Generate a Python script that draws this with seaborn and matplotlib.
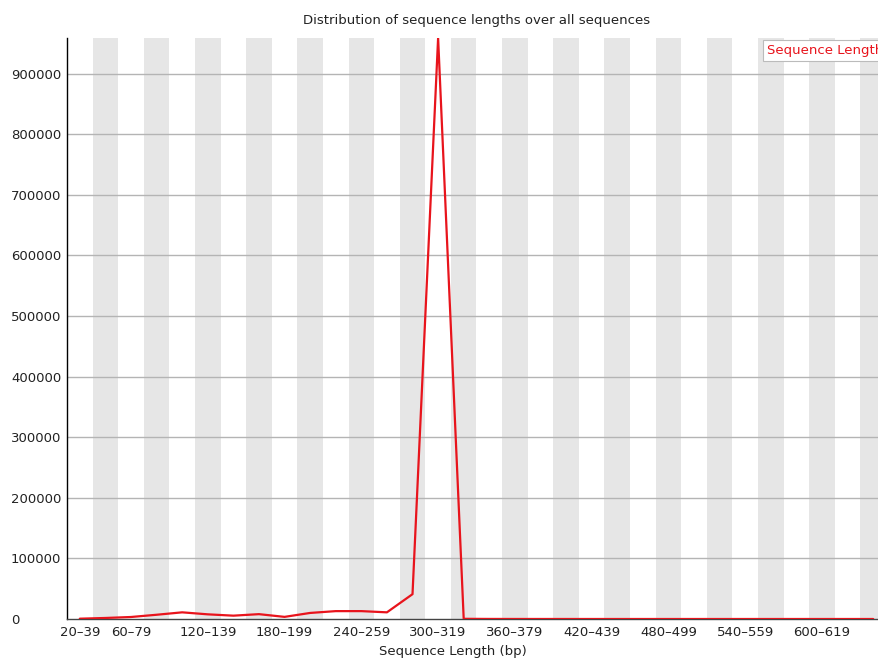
import matplotlib
matplotlib.use("Agg")
import matplotlib.pyplot as plt
import seaborn as sns
import pandas as pd

# Length bins (bp) and read counts per bin
length_bins = [
    "20-39", "40-59", "60-79", "80-99", "100-119", "120-139", "140-159", "160-179",
    "180-199", "200-219", "220-239", "240-259", "260-279", "280-299", "300-319", "320-339",
    "340-359", "360-379", "380-399", "400-419", "420-439", "440-459", "460-479", "480-499",
    "500-519", "520-539", "540-559", "560-579", "580-599", "600-619", "620-639", "640-659",
]
read_counts = [
    500, 1700, 3300, 7000, 11000, 7700, 5500, 8000,
    3500, 10000, 13000, 13000, 11000, 41000, 959000, 300,
    100, 50, 30, 20, 10, 10, 5, 5,
    5, 3, 2, 2, 1, 1, 1, 1,
]
labelled_bins = ["20-39", "60-79", "120-139", "180-199", "240-259", "300-319",
                 "360-379", "420-439", "480-499", "540-559", "600-619"]
y_ticks = [0, 100000, 200000, 300000, 400000, 500000, 600000, 700000, 800000, 900000]

df = pd.DataFrame({"pos": range(len(length_bins)), "bin": length_bins, "count": read_counts})

sns.set_theme(style="white")
plt.rcParams["font.family"] = ["DejaVu Sans"]

W, H = 879, 661
fig = plt.figure(figsize=(W / 100, H / 100), dpi=100)
left, right, top, bottom = 67, 886, 38, 619
ax = fig.add_axes([left / W, (H - bottom) / H, (right - left) / W, (bottom - top) / H])

# Alternating shaded bands behind every second bin
for i in range(len(length_bins)):
    if i % 2 == 1:
        ax.axvspan(i - 0.5, i + 0.5, color="#e6e6e6", lw=0, zorder=0)

for t in y_ticks[1:]:
    ax.axhline(t, color="#b4b4b4", lw=1.0, zorder=1)

sns.lineplot(data=df, x="pos", y="count", color="#e8141c", lw=1.6, ax=ax,
             zorder=3, label="Sequence Length (bp)")

ax.set_xlim(-0.5, len(length_bins) - 0.5)
ax.set_ylim(0, max(read_counts))
ax.set_yticks(y_ticks)
ax.set_yticklabels([str(t) for t in y_ticks], fontsize=9.5, color="#222222", ha="left")
tick_pos = [length_bins.index(b) for b in labelled_bins]
ax.set_xticks(tick_pos)
ax.set_xticklabels([b.replace("-", "\u2013") for b in labelled_bins], fontsize=9.5, color="#222222")
ax.tick_params(length=0)
ax.tick_params(axis="x", pad=5)
# left-aligned y labels starting near the figure's left edge
ax.tick_params(axis="y", pad=(left - 11) * 72 / 100)

ax.set_xlabel("Sequence Length (bp)", fontsize=9.5, color="#222222")
ax.xaxis.set_label_coords((453 - left) / (right - left), -(651 - bottom) / (bottom - top),
                          transform=ax.transAxes)
ax.xaxis.label.set_va("center")
ax.set_ylabel("")
ax.set_title("Distribution of sequence lengths over all sequences", fontsize=9.5,
             color="#222222", pad=10)

for s in ["top", "right"]:
    ax.spines[s].set_visible(False)
ax.spines["left"].set_color("black")
ax.spines["left"].set_linewidth(1.0)
ax.spines["bottom"].set_color("#444444")
ax.spines["bottom"].set_linewidth(1.0)
ax.grid(False)

leg = ax.legend(loc="upper left", bbox_to_anchor=((763 - left) / (right - left), 1 - 2 / (bottom - top)),
                handlelength=0, handletextpad=0, fontsize=9.5, frameon=True, fancybox=False,
                borderpad=0.3, borderaxespad=0)
for h in leg.legend_handles:
    h.set_visible(False)
for txt in leg.get_texts():
    txt.set_color("#e8141c")
leg.get_frame().set_edgecolor("#bbbbbb")
leg.get_frame().set_linewidth(0.8)
leg.get_frame().set_alpha(1)

fig.savefig("out.png", dpi=100)
